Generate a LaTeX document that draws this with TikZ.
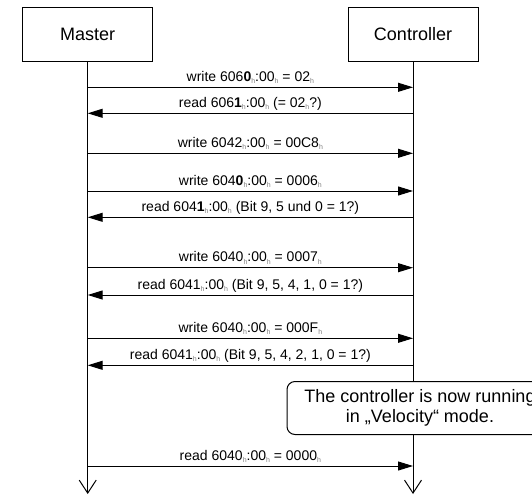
\documentclass[tikz,border=0pt]{standalone}
\usepackage{fontspec}
\setmainfont{Liberation Sans}
\usetikzlibrary{arrows.meta}
\definecolor{subgray}{HTML}{808080}
\newcommand{\hx}{\raisebox{-2.5pt}{\textcolor{subgray}{\fontsize{7}{7}\selectfont h}}}
\tikzset{
  actor/.style={draw, line width=1pt, minimum width=130pt, minimum height=54pt, font=\fontsize{18}{20}\selectfont},
  life/.style={line width=1pt, -{Straight Barb[length=13pt,width=17pt,line width=1pt]}},
  msg/.style={line width=1pt, -{Triangle[length=15pt,width=9pt]}},
  lbl/.style={anchor=base, inner sep=0pt, font=\fontsize{14}{16}\selectfont},
  note/.style={draw, fill=white, line width=1pt, rounded corners=8pt, minimum width=266pt, minimum height=53pt, align=center, font=\fontsize{18}{20}\selectfont}
}
\begin{document}
\begin{tikzpicture}[x=1pt,y=-1pt]
\useasboundingbox (0,0) rectangle (532,495);
\clip (0,0) rectangle (532,495);
\node[actor] (master) at (87.7,34.2) {Master};
\node[actor] (ctrl) at (413,34.2) {Controller};
\coordinate (mend) at (87.7,494);
\coordinate (cend) at (413,494);
\draw[life] (master.south) -- (mend);
\draw[life] (ctrl.south) -- (cend);
% message rows
\foreach \n/\y in {1/87.3,2/113.3,3/153.3,4/191,5/217.3,6/267.7,7/295,8/338.3,9/365.3,10/466}{
  \coordinate (M\n) at (87.7,\y);
  \coordinate (C\n) at (413,\y);
}
\node[note] (note) at (420,408) {The controller is now running\\in „Velocity“ mode.};
\draw[msg] (M1) -- (C1) node[lbl, pos=0.5, yshift=6pt] (l1) {write 606\textbf{0}\hx:00\hx{} = 02\hx};
\draw[msg] (C2) -- (M2) node[lbl, pos=0.5, yshift=6pt] (l2) {read 606\textbf{1}\hx:00\hx{} (= 02\hx?)};
\draw[msg] (M3) -- (C3) node[lbl, pos=0.5, yshift=6pt] (l3) {write 6042\hx:00\hx{} = 00C8\hx};
\draw[msg] (M4) -- (C4) node[lbl, pos=0.5, yshift=6pt] (l4) {write 604\textbf{0}\hx:00\hx{} = 0006\hx};
\draw[msg] (C5) -- (M5) node[lbl, pos=0.5, yshift=6pt] (l5) {read 604\textbf{1}\hx:00\hx{} (Bit 9, 5 und 0 = 1?)};
\draw[msg] (M6) -- (C6) node[lbl, pos=0.5, yshift=6pt] (l6) {write 6040\hx:00\hx{} = 0007\hx};
\draw[msg] (C7) -- (M7) node[lbl, pos=0.5, yshift=6pt] (l7) {read 6041\hx:00\hx{} (Bit 9, 5, 4, 1, 0 = 1?)};
\draw[msg] (M8) -- (C8) node[lbl, pos=0.5, yshift=6pt] (l8) {write 6040\hx:00\hx{} = 000F\hx};
\draw[msg] (C9) -- (M9) node[lbl, pos=0.5, yshift=6pt] (l9) {read 6041\hx:00\hx{} (Bit 9, 5, 4, 2, 1, 0 = 1?)};
\draw[msg] (M10) -- (C10) node[lbl, pos=0.5, yshift=6pt] (l10) {read 6040\hx:00\hx{} = 0000\hx};
\end{tikzpicture}
\end{document}
